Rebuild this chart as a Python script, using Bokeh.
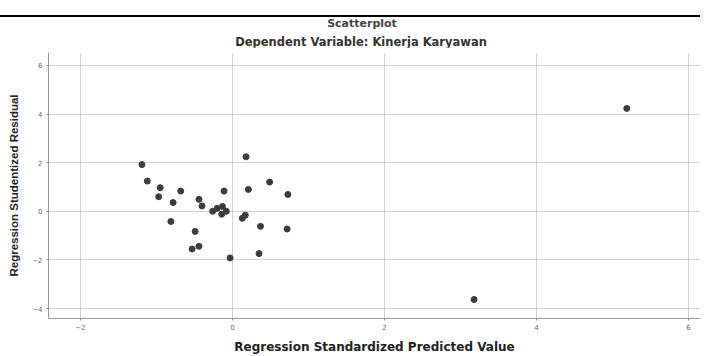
from bokeh.plotting import figure
from bokeh.models import Range1d, FixedTicker, Div
from bokeh.layouts import column
from bokeh.embed import file_html
from bokeh.resources import INLINE

predicted = [-1.19, -1.12, -0.95, -0.68, -0.97, -0.78, -0.44, -0.40, -0.81, -0.49,
             -0.53, -0.44, -0.11, 0.21, 0.18, 0.49, 0.73, -0.26, -0.20, -0.13,
             -0.08, -0.14, 0.13, 0.17, 0.37, 0.72, -0.03, 0.35, 3.18, 5.19]
residual = [1.92, 1.24, 0.97, 0.83, 0.60, 0.36, 0.49, 0.22, -0.42, -0.83,
            -1.55, -1.44, 0.83, 0.90, 2.24, 1.20, 0.69, 0.00, 0.12, 0.20,
            0.00, -0.12, -0.29, -0.16, -0.62, -0.73, -1.92, -1.74, -3.63, 4.23]
x_ticks = [-2, 0, 2, 4, 6]
y_ticks = [-4, -2, 0, 2, 4, 6]
title_text = "Scatterplot"
subtitle_text = "Dependent Variable: Kinerja Karyawan"

HFONT = "DejaVu Sans"
VFONT = "Liberation Sans"
W = 700

header_html = (
    f'<div style="position:relative;width:{W}px;height:47px;">'
    f'<div style="position:absolute;left:0;top:15px;width:{W}px;height:2px;background:#000;"></div>'
    f'<div style="position:absolute;left:212px;width:300px;top:17px;line-height:14px;'
    f'text-align:center;font-family:\'{HFONT}\';font-weight:bold;font-size:11px;color:#444;">'
    f'{title_text}</div>'
    f'<div style="position:absolute;left:161px;width:400px;top:35px;line-height:14px;'
    f'text-align:center;font-family:\'{HFONT}\';font-weight:bold;font-size:11.5px;color:#333;">'
    f'{subtitle_text}</div>'
    f'</div>'
)
header = Div(text=header_html, width=W, height=47, margin=(0, 0, 0, 0))

p = figure(width=W, height=309, output_backend="svg", toolbar_location=None,
           x_range=Range1d(-2.42, 6.16), y_range=Range1d(-4.41, 6.53),
           min_border_left=48, min_border_right=0, min_border_top=5, min_border_bottom=37)
p.title = None
p.outline_line_color = None
p.background_fill_color = "white"
p.border_fill_color = "white"

for ax in (p.xaxis[0], p.yaxis[0]):
    ax.axis_line_color = "#999999"
    ax.major_tick_line_color = "#999999"
    ax.minor_tick_line_color = None
    ax.major_tick_out = 2
    ax.major_tick_in = 0
    ax.major_label_text_font = HFONT
    ax.major_label_text_font_size = "7px"
    ax.major_label_text_color = "#666666"
    ax.axis_label_text_font_style = "bold"
    ax.axis_label_text_color = "#222222"

p.xaxis.axis_label_text_font = HFONT
p.xaxis.axis_label_text_font_size = "12px"
p.yaxis.axis_label_text_font = VFONT
p.yaxis.axis_label_text_font_size = "11.5px"

p.xaxis.ticker = FixedTicker(ticks=x_ticks)
p.yaxis.ticker = FixedTicker(ticks=y_ticks)
p.xaxis.axis_label = "Regression Standardized Predicted Value"
p.yaxis.axis_label = "Regression Studentized Residual"
p.xaxis.major_label_standoff = 3
p.yaxis.major_label_standoff = 4
p.xaxis.axis_label_standoff = 7
p.yaxis.axis_label_standoff = 9

p.xgrid.ticker = FixedTicker(ticks=x_ticks)
p.ygrid.ticker = FixedTicker(ticks=y_ticks)
p.grid.grid_line_color = "#d4d4d4"
p.grid.grid_line_width = 1

p.scatter(predicted, residual, size=6, fill_color="#3c3c3c", line_color="#3c3c3c")

layout = column(header, p, spacing=0)

open("out.html", "w").write(file_html(layout, INLINE))
